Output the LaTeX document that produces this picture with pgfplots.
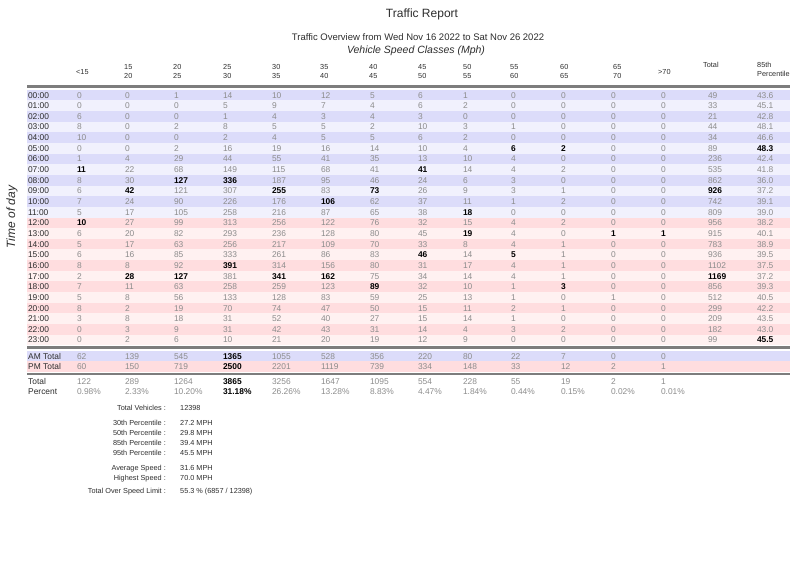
\documentclass[border=0pt]{standalone}
\usepackage{pgfplots}
\pgfplotsset{compat=1.18}
\usepackage{pgfplotstable}
\usepackage{fontspec}
\setmainfont{Liberation Sans}

\definecolor{bandA}{RGB}{220,220,250}
\definecolor{bandB}{RGB}{241,241,253}
\definecolor{bandC}{RGB}{255,221,223}
\definecolor{bandD}{RGB}{255,241,241}
\definecolor{numgray}{RGB}{140,140,140}
\definecolor{labdark}{RGB}{45,45,45}
\definecolor{rulegray}{RGB}{125,125,125}

\pgfplotstableread{
t c1 c2 c3 c4 c5 c6 c7 c8 c9 c10 c11 c12 c13 tot p85
00:00 0 0 1 14 10 12 5 6 1 0 0 0 0 49 43.6
01:00 0 0 0 5 9 7 4 6 2 0 0 0 0 33 45.1
02:00 6 0 0 1 4 3 4 3 0 0 0 0 0 21 42.8
03:00 8 0 2 8 5 5 2 10 3 1 0 0 0 44 48.1
04:00 10 0 0 2 4 5 5 6 2 0 0 0 0 34 46.6
05:00 0 0 2 16 19 16 14 10 4 6 2 0 0 89 48.3
06:00 1 4 29 44 55 41 35 13 10 4 0 0 0 236 42.4
07:00 11 22 68 149 115 68 41 41 14 4 2 0 0 535 41.8
08:00 8 30 127 336 187 95 46 24 6 3 0 0 0 862 36.0
09:00 6 42 121 307 255 83 73 26 9 3 1 0 0 926 37.2
10:00 7 24 90 226 176 106 62 37 11 1 2 0 0 742 39.1
11:00 5 17 105 258 216 87 65 38 18 0 0 0 0 809 39.0
12:00 10 27 99 313 256 122 76 32 15 4 2 0 0 956 38.2
13:00 6 20 82 293 236 128 80 45 19 4 0 1 1 915 40.1
14:00 5 17 63 256 217 109 70 33 8 4 1 0 0 783 38.9
15:00 6 16 85 333 261 86 83 46 14 5 1 0 0 936 39.5
16:00 8 8 92 391 314 156 80 31 17 4 1 0 0 1102 37.5
17:00 2 28 127 381 341 162 75 34 14 4 1 0 0 1169 37.2
18:00 7 11 63 258 259 123 89 32 10 1 3 0 0 856 39.3
19:00 5 8 56 133 128 83 59 25 13 1 0 1 0 512 40.5
20:00 8 2 19 70 74 47 50 15 11 2 1 0 0 299 42.2
21:00 3 8 18 31 52 40 27 15 14 1 0 0 0 209 43.5
22:00 0 3 9 31 42 43 31 14 4 3 2 0 0 182 43.0
23:00 0 2 6 10 21 20 19 12 9 0 0 0 0 99 45.5
}\hourly

\pgfplotstableread{
y c1 c2 c3 c4 c5 c6 c7 c8 c9 c10 c11 c12 c13
359 62 139 545 1365 1055 528 356 220 80 22 7 0 0
369.5 60 150 719 2500 2201 1119 739 334 148 33 12 2 1
384.5 122 289 1264 3865 3256 1647 1095 554 228 55 19 2 1
}\totals

\pgfplotstableread{
y c1 c2 c3 c4 c5 c6 c7 c8 c9 c10 c11 c12 c13
394.5 0.98 2.33 10.20 31.18 26.26 13.28 8.83 4.47 1.84 0.44 0.15 0.02 0.01
}\pct

\pgfplotsset{
  cell/.style={draw=none, mark=none, point meta=explicit symbolic, nodes near coords,
    unbounded coords=discard,
    every node near coord/.append style={anchor=base west, inner sep=0pt, outer sep=0pt,
      font=\fontsize{8.4}{10}\selectfont}},
  gcell/.style={cell, every node near coord/.append style={text=numgray}},
  bcell/.style={cell, every node near coord/.append style={text=black,
      font=\fontsize{8.4}{10}\selectfont\bfseries}},
}

% column name, x position, AM bold row, PM bold row
\newcommand{\hcol}[4]{%
  \addplot[gcell, x filter/.expression={(\coordindex==#3 || \coordindex==#4) ? nan : x}]
    table[x expr=#2, y expr=98+10.65*\coordindex, meta=#1]{\hourly};
  \addplot[bcell, x filter/.expression={(\coordindex==#3 || \coordindex==#4) ? x : nan}]
    table[x expr=#2, y expr=98+10.65*\coordindex, meta=#1]{\hourly};
}
\newcommand{\tcol}[3]{%
  \addplot[#3] table[x expr=#2, y=y, meta=#1]{\totals};
  \addplot[#3, nodes near coords={\pgfplotspointmeta\%}] table[x expr=#2, y=y, meta=#1]{\pct};
}
\newcommand{\hdr}[3]{%
  \node[anchor=base west, inner sep=0pt, text=labdark, font=\fontsize{7.3}{8}\selectfont] at (axis cs:#1,69.5) {#2};
  \node[anchor=base west, inner sep=0pt, text=labdark, font=\fontsize{7.3}{8}\selectfont] at (axis cs:#1,78.5) {#3};
}
\newcommand{\stat}[3]{%
  \node[anchor=base east, inner sep=0pt, text=labdark, font=\fontsize{7.3}{9}\selectfont] at (axis cs:166,#1) {#2};
  \node[anchor=base west, inner sep=0pt, text=labdark, font=\fontsize{7.3}{9}\selectfont] at (axis cs:180,#1) {#3};
}

\begin{document}
\begin{tikzpicture}
\begin{axis}[
  scale only axis, width=800pt, height=565pt,
  xmin=0, xmax=800, ymin=0, ymax=565, y dir=reverse,
  axis line style={draw=none}, xtick=\empty, ytick=\empty, clip=false,
]
% row bands
\pgfplotsinvokeforeach{0,2,...,10}{\fill[bandA] (axis cs:27,{89.7+10.65*#1}) rectangle (axis cs:790,{100.35+10.65*#1});}
\pgfplotsinvokeforeach{1,3,...,11}{\fill[bandB] (axis cs:27,{89.7+10.65*#1}) rectangle (axis cs:790,{100.35+10.65*#1});}
\pgfplotsinvokeforeach{12,14,...,22}{\fill[bandC] (axis cs:27,{89.7+10.65*#1}) rectangle (axis cs:790,{100.35+10.65*#1});}
\pgfplotsinvokeforeach{13,15,...,23}{\fill[bandD] (axis cs:27,{89.7+10.65*#1}) rectangle (axis cs:790,{100.35+10.65*#1});}
\fill[bandA] (axis cs:27,350.8) rectangle (axis cs:790,361.3);
\fill[bandC] (axis cs:27,361.3) rectangle (axis cs:790,371.6);
% rules
\draw[rulegray, line width=2.2pt] (axis cs:27,86.5) -- (axis cs:790,86.5);
\draw[rulegray, line width=2.2pt] (axis cs:27,347.5) -- (axis cs:790,347.5);
\draw[rulegray, line width=1.8pt] (axis cs:27,373.8) -- (axis cs:790,373.8);

% titles
\node[text=labdark, font=\fontsize{12}{14}\selectfont] at (axis cs:422,14) {Traffic Report};
\node[text=labdark, font=\fontsize{9.5}{11}\selectfont] at (axis cs:418,37.5) {Traffic Overview from Wed Nov 16 2022 to Sat Nov 26 2022};
\node[text=labdark, font=\fontsize{10.5}{12}\selectfont\itshape] at (axis cs:416,50.5) {Vehicle Speed Classes (Mph)};
\node[text=labdark, rotate=90, font=\fontsize{12}{14}\selectfont\itshape] at (axis cs:12,217) {Time of day};

% column headers
\node[anchor=base west, inner sep=0pt, text=labdark, font=\fontsize{7.3}{8}\selectfont] at (axis cs:76,74.5) {<15};
\hdr{124}{15}{20}
\hdr{173}{20}{25}
\hdr{223}{25}{30}
\hdr{272}{30}{35}
\hdr{320}{35}{40}
\hdr{369}{40}{45}
\hdr{418}{45}{50}
\hdr{463}{50}{55}
\hdr{510}{55}{60}
\hdr{560}{60}{65}
\hdr{613}{65}{70}
\node[anchor=base west, inner sep=0pt, text=labdark, font=\fontsize{7.3}{8}\selectfont] at (axis cs:658,74.5) {>70};
\node[anchor=base west, inner sep=0pt, text=labdark, font=\fontsize{7.3}{8}\selectfont] at (axis cs:703,67.5) {Total};
\node[anchor=base west, inner sep=0pt, text=labdark, font=\fontsize{7.3}{8}\selectfont] at (axis cs:757,67.5) {85th};
\node[anchor=base west, inner sep=0pt, text=labdark, font=\fontsize{7.3}{8}\selectfont] at (axis cs:757,76.5) {Percentile};

% hourly rows
\addplot[cell, every node near coord/.append style={text=labdark}]
  table[x expr=28, y expr=98+10.65*\coordindex, meta=t]{\hourly};
\hcol{c1}{77}{7}{12}
\hcol{c2}{125}{9}{17}
\hcol{c3}{174}{8}{17}
\hcol{c4}{223}{8}{16}
\hcol{c5}{272}{9}{17}
\hcol{c6}{321}{10}{17}
\hcol{c7}{370}{9}{18}
\hcol{c8}{418}{7}{15}
\hcol{c9}{463}{11}{13}
\hcol{c10}{511}{5}{15}
\hcol{c11}{561}{5}{18}
\hcol{c12}{611}{-1}{13}
\hcol{c13}{661}{-1}{13}
\hcol{tot}{708}{9}{17}
\hcol{p85}{757}{5}{23}

% totals
\node[anchor=base west, inner sep=0pt, text=labdark, font=\fontsize{8.4}{10}\selectfont] at (axis cs:28,359) {AM Total};
\node[anchor=base west, inner sep=0pt, text=labdark, font=\fontsize{8.4}{10}\selectfont] at (axis cs:28,369.5) {PM Total};
\node[anchor=base west, inner sep=0pt, text=labdark, font=\fontsize{8.4}{10}\selectfont] at (axis cs:28,384.5) {Total};
\node[anchor=base west, inner sep=0pt, text=labdark, font=\fontsize{8.4}{10}\selectfont] at (axis cs:28,394.5) {Percent};
\tcol{c1}{77}{gcell}
\tcol{c2}{125}{gcell}
\tcol{c3}{174}{gcell}
\tcol{c4}{223}{bcell}
\tcol{c5}{272}{gcell}
\tcol{c6}{321}{gcell}
\tcol{c7}{370}{gcell}
\tcol{c8}{418}{gcell}
\tcol{c9}{463}{gcell}
\tcol{c10}{511}{gcell}
\tcol{c11}{561}{gcell}
\tcol{c12}{611}{gcell}
\tcol{c13}{661}{gcell}

% summary
\stat{410}{Total Vehicles :}{12398}
\stat{425.6}{30th Percentile :}{27.2 MPH}
\stat{435.6}{50th Percentile :}{29.8 MPH}
\stat{445.6}{85th Percentile :}{39.4 MPH}
\stat{455.6}{95th Percentile :}{45.5 MPH}
\stat{470.6}{Average Speed :}{31.6 MPH}
\stat{480.6}{Highest Speed :}{70.0 MPH}
\stat{493}{Total Over Speed Limit :}{55.3 \% (6857 / 12398)}
\end{axis}
\end{tikzpicture}
\end{document}
